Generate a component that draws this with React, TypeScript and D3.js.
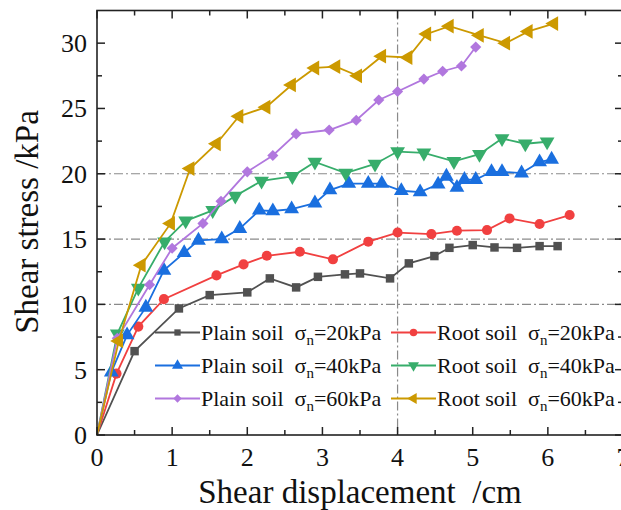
import React from "react";
import * as d3 from "d3";

// shear displacement (cm) / shear stress (kPa)
const plain20X = [0, 0.5, 1.09, 1.5, 2.0, 2.3, 2.65, 2.94, 3.3, 3.5, 3.9, 4.15, 4.49, 4.69, 5.0, 5.29, 5.59, 5.89, 6.13];
const plain20Y = [0, 6.42, 9.69, 10.71, 10.92, 11.99, 11.3, 12.11, 12.3, 12.37, 11.99, 13.14, 13.7, 14.33, 14.54, 14.36, 14.33, 14.46, 14.46];

const root20X = [0, 0.26, 0.55, 0.89, 1.59, 1.95, 2.26, 2.7, 3.14, 3.61, 4.0, 4.45, 4.79, 5.19, 5.49, 5.89, 6.29];
const root20Y = [0, 4.7, 8.3, 10.4, 12.22, 13.06, 13.72, 14.03, 13.45, 14.8, 15.5, 15.38, 15.64, 15.69, 16.58, 16.15, 16.84];

const plain40X = [0, 0.19, 0.4, 0.65, 0.89, 1.16, 1.35, 1.66, 1.9, 2.16, 2.34, 2.59, 2.9, 3.1, 3.35, 3.61, 3.79, 4.05, 4.3, 4.54, 4.65, 4.79, 4.89, 5.04, 5.25, 5.39, 5.65, 5.89, 6.05];
const plain40Y = [0, 4.8, 7.65, 9.77, 12.6, 13.95, 14.9, 15.0, 15.8, 17.2, 17.15, 17.3, 17.75, 18.75, 19.25, 19.25, 19.25, 18.7, 18.6, 19.2, 19.8, 18.95, 19.55, 19.55, 20.15, 20.15, 20.05, 20.9, 21.1];

const root40X = [0, 0.27, 0.55, 0.9, 1.18, 1.54, 1.84, 2.19, 2.6, 2.9, 3.31, 3.7, 4.0, 4.35, 4.75, 5.09, 5.39, 5.7, 5.99];
const root40Y = [0, 7.75, 11.25, 14.8, 16.4, 17.2, 18.3, 19.45, 19.8, 20.9, 20.05, 20.75, 21.7, 21.6, 20.95, 21.5, 22.7, 22.3, 22.45];

const plain60X = [0, 0.27, 0.7, 1.0, 1.41, 1.65, 2.0, 2.34, 2.65, 3.09, 3.45, 3.75, 4.0, 4.35, 4.6, 4.85, 5.04];
const plain60Y = [0, 7.4, 11.5, 14.3, 16.2, 17.9, 20.15, 21.4, 23.05, 23.35, 24.1, 25.65, 26.3, 27.25, 27.85, 28.25, 29.7];

const root60X = [0, 0.29, 0.59, 0.98, 1.24, 1.59, 1.89, 2.25, 2.59, 2.9, 3.18, 3.47, 3.79, 4.14, 4.39, 4.69, 5.09, 5.44, 5.74, 6.08];
const root60Y = [0, 7.2, 13.0, 16.2, 20.4, 22.3, 24.4, 25.1, 26.8, 28.1, 28.2, 27.5, 29.0, 28.9, 30.7, 31.3, 30.6, 30.0, 30.9, 31.5];

const xTicks = [0, 1, 2, 3, 4, 5, 6, 7];
const yTicks = [0, 5, 10, 15, 20, 25, 30];
const hGrid = [10, 15, 20];
const vGrid = [4];

const series = [
  { soil: "Plain soil", load: "20", xs: plain20X, ys: plain20Y, color: "#515151", shape: "square" },
  { soil: "Root soil", load: "20", xs: root20X, ys: root20Y, color: "#F14040", shape: "circle" },
  { soil: "Plain soil", load: "40", xs: plain40X, ys: plain40Y, color: "#1A6FDF", shape: "up" },
  { soil: "Root soil", load: "40", xs: root40X, ys: root40Y, color: "#37AD6B", shape: "down" },
  { soil: "Plain soil", load: "60", xs: plain60X, ys: plain60Y, color: "#B177DE", shape: "diamond" },
  { soil: "Root soil", load: "60", xs: root60X, ys: root60Y, color: "#CC9900", shape: "left" },
];

const FONT = "'Liberation Serif', 'Times New Roman', serif";

function markerPath(shape: string, scale: number) {
  const tri = d3.symbol().type(d3.symbolTriangle).size(95 * scale)()!;
  switch (shape) {
    case "square":
      return { d: d3.symbol().type(d3.symbolSquare).size(72 * scale)()!, rot: 0 };
    case "circle":
      return { d: d3.symbol().type(d3.symbolCircle).size(80 * scale)()!, rot: 0 };
    case "diamond":
      return { d: d3.symbol().type(d3.symbolSquare).size(62 * scale)()!, rot: 45 };
    case "down":
      return { d: tri, rot: 180 };
    case "left":
      return { d: tri, rot: -90 };
    default:
      return { d: tri, rot: 0 };
  }
}

export default function App() {
  const width = 621;
  const height = 510;
  const left = 97;
  const right = 623;
  const top = 10.5;
  const bottom = 435;

  const x = d3.scaleLinear().domain([0, 7]).range([left, right]);
  const y = d3.scaleLinear().domain([0, 32.5]).range([bottom, top]);

  const line = d3
    .line<[number, number]>()
    .x((d) => x(d[0]))
    .y((d) => y(d[1]));

  const xMinor = d3.range(0.5, 7, 1);
  const yMinor = d3.range(2.5, 32.5, 5);
  const axisColor = "#222";

  return (
    <svg
      width={width}
      height={height}
      style={{ position: "absolute", left: 0, top: 0, background: "#fff" }}
      fontFamily={FONT}
    >
      {/* grid */}
      {hGrid.map((g) => (
        <line key={"h" + g} x1={left} x2={right} y1={y(g)} y2={y(g)} stroke="#8a8a8a" strokeWidth={1.2} strokeDasharray="9,3,2,3" />
      ))}
      {vGrid.map((g) => (
        <line key={"v" + g} x1={x(g)} x2={x(g)} y1={top} y2={bottom} stroke="#8a8a8a" strokeWidth={1.2} strokeDasharray="9,3,2,3" />
      ))}

      {/* series */}
      {series.map((s, i) => {
        const pts = s.xs.map((v, k) => [v, s.ys[k]] as [number, number]);
        const m = markerPath(s.shape, 1);
        return (
          <g key={i}>
            <path d={line(pts)!} fill="none" stroke={s.color} strokeWidth={1.8} />
            {pts.slice(1).map((p, k) => (
              <path
                key={k}
                d={m.d}
                fill={s.color}
                transform={`translate(${x(p[0])},${y(p[1])}) rotate(${m.rot})`}
              />
            ))}
          </g>
        );
      })}

      {/* frame */}
      <rect x={left} y={top} width={right - left} height={bottom - top} fill="none" stroke={axisColor} strokeWidth={1.6} />

      {/* ticks */}
      {xTicks.map((t) => (
        <g key={"xt" + t}>
          <line x1={x(t)} x2={x(t)} y1={bottom} y2={bottom - 8} stroke={axisColor} strokeWidth={1.5} />
          <line x1={x(t)} x2={x(t)} y1={top} y2={top + 8} stroke={axisColor} strokeWidth={1.5} />
          <text x={x(t)} y={466} textAnchor="middle" fontSize={26} fill="#111">
            {t}
          </text>
        </g>
      ))}
      {xMinor.map((t) => (
        <g key={"xm" + t}>
          <line x1={x(t)} x2={x(t)} y1={bottom} y2={bottom - 5} stroke={axisColor} strokeWidth={1.5} />
          <line x1={x(t)} x2={x(t)} y1={top} y2={top + 5} stroke={axisColor} strokeWidth={1.5} />
        </g>
      ))}
      {yTicks.map((t) => (
        <g key={"yt" + t}>
          <line x1={left} x2={left + 8} y1={y(t)} y2={y(t)} stroke={axisColor} strokeWidth={1.5} />
          <line x1={right} x2={right - 8} y1={y(t)} y2={y(t)} stroke={axisColor} strokeWidth={1.5} />
          <text x={87} y={y(t) + 9} textAnchor="end" fontSize={26} fill="#111">
            {t}
          </text>
        </g>
      ))}
      {yMinor.map((t) => (
        <g key={"ym" + t}>
          <line x1={left} x2={left + 5} y1={y(t)} y2={y(t)} stroke={axisColor} strokeWidth={1.5} />
          <line x1={right} x2={right - 5} y1={y(t)} y2={y(t)} stroke={axisColor} strokeWidth={1.5} />
        </g>
      ))}

      {/* axis titles */}
      <text x={360} y={503} textAnchor="middle" fontSize={33} fill="#111" style={{ whiteSpace: "pre" }}>
        {"Shear displacement  /cm"}
      </text>
      <text
        transform="translate(38,222) rotate(-90)"
        textAnchor="middle"
        fontSize={33}
        fill="#111"
      >
        Shear stress /kPa
      </text>

      {/* legend */}
      {series.map((s, i) => {
        const col = i % 2;
        const row = Math.floor(i / 2);
        const lx = col === 0 ? 155 : 391;
        const ly = 332.5 + row * 33;
        const m = markerPath(s.shape, 0.55);
        return (
          <g key={"lg" + i}>
            <line x1={lx} x2={lx + 45} y1={ly} y2={ly} stroke={s.color} strokeWidth={1.8} />
            <path d={m.d} fill={s.color} transform={`translate(${lx + 22.5},${ly}) rotate(${m.rot})`} />
            <text x={lx + 46} y={ly + 7.5} fontSize={22} fill="#111" style={{ whiteSpace: "pre" }}>
              {s.soil + "  σ"}
              <tspan fontSize={15} dy={5}>n</tspan>
              <tspan dy={-5}>{"=" + s.load + "kPa"}</tspan>
            </text>
          </g>
        );
      })}
    </svg>
  );
}
